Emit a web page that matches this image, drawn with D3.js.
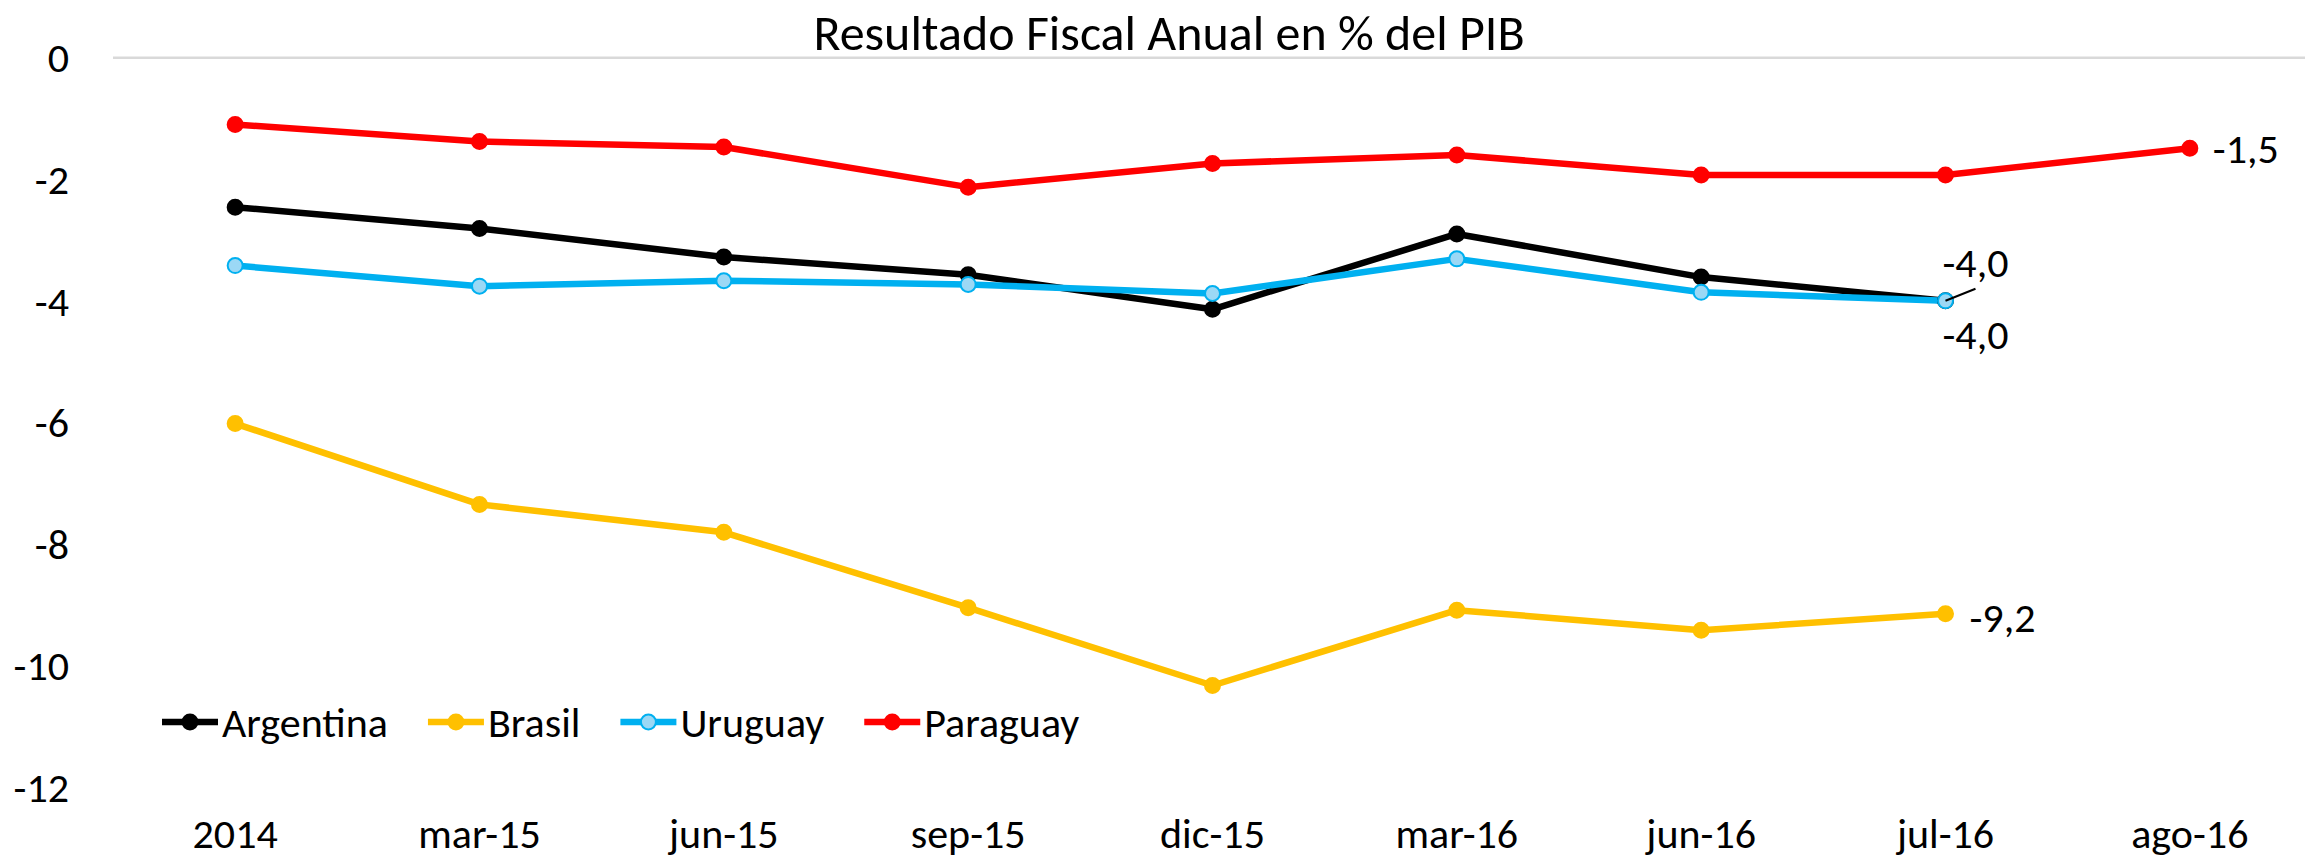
<!DOCTYPE html>
<html>
<head>
<meta charset="utf-8">
<script src="https://cdn.jsdelivr.net/npm/d3@7"></script>
<style>
  body { margin: 0; background: #fff; }
  svg text { font-family: Carlito, Calibri, "Liberation Sans Narrow", "Noto Sans", sans-serif; fill: #000; }
</style>
</head>
<body>
<figure id="chart" style="margin:0"></figure>
<script>
// data
const categories = ["2014", "mar-15", "jun-15", "sep-15", "dic-15", "mar-16", "jun-16", "jul-16", "ago-16"];
const argentina = [-2.46, -2.81, -3.28, -3.57, -4.14, -2.90, -3.61, -4.0];
const brasil = [-6.02, -7.35, -7.81, -9.05, -10.33, -9.09, -9.42, -9.15];
const uruguay = [-3.42, -3.76, -3.67, -3.73, -3.88, -3.31, -3.86, -4.0];
const paraguay = [-1.10, -1.38, -1.47, -2.13, -1.74, -1.60, -1.93, -1.93, -1.49];
const yTicks = [0, -2, -4, -6, -8, -10, -12];

const seriesNames = ["Argentina", "Brasil", "Uruguay", "Paraguay"];
const seriesValues = [argentina, brasil, uruguay, paraguay];
const lineColors = ["#000000", "#FFC000", "#00B0F0", "#FF0000"];
const markerFill = ["#000000", "#FFC000", "#9BD8F5", "#FF0000"];

const width = 2305, height = 859;

const svg = d3.select("figure#chart")
  .append("svg")
  .attr("width", width)
  .attr("height", height);

const x = d3.scaleBand().domain(categories).range([113, 2312]);
const xc = c => x(c) + x.bandwidth() / 2;
const y = d3.scaleLinear().domain([-12, 0]).range([787, 57.7]);

const locale = d3.formatLocale({ decimal: ",", thousands: ".", grouping: [3], currency: ["", ""], minus: "-" });
const fmt1 = locale.format(".1f");
const fmt0 = locale.format("d");

// title
svg.append("text")
  .attr("x", 1169)
  .attr("y", 32)
  .attr("dy", "0.35em")
  .style("text-anchor", "middle")
  .style("font-size", "50px")
  .text("Resultado Fiscal Anual en % del PIB");

// horizontal axis line at 0
svg.append("line")
  .attr("x1", 113).attr("x2", width)
  .attr("y1", y(0)).attr("y2", y(0))
  .style("stroke", "#D9D9D9")
  .style("stroke-width", 2.5);

// y labels
svg.selectAll(".ytick")
  .data(yTicks)
  .enter()
  .append("text")
  .attr("class", "ytick")
  .attr("x", 69)
  .attr("y", d => y(d))
  .attr("dy", "0.35em")
  .style("text-anchor", "end")
  .style("font-size", "42px")
  .text(d => fmt0(d));

// x labels (low position)
svg.selectAll(".xtick")
  .data(categories)
  .enter()
  .append("text")
  .attr("class", "xtick")
  .attr("x", d => xc(d))
  .attr("y", 833)
  .attr("dy", "0.35em")
  .style("text-anchor", "middle")
  .style("font-size", "42px")
  .text(d => d);

const line = d3.line()
  .x((d, i) => xc(categories[i]))
  .y(d => y(d));

seriesValues.forEach((vals, s) => {
  svg.append("path")
    .datum(vals)
    .attr("d", line)
    .style("fill", "none")
    .style("stroke", lineColors[s])
    .style("stroke-width", 6.5)
    .style("stroke-linejoin", "round");
});

seriesValues.forEach((vals, s) => {
  svg.selectAll(".pt" + s)
    .data(vals)
    .enter()
    .append("circle")
    .attr("cx", (d, i) => xc(categories[i]))
    .attr("cy", d => y(d))
    .attr("r", 7.5)
    .style("fill", markerFill[s])
    .style("stroke", lineColors[s])
    .style("stroke-width", 2);
});

// end labels
const lastIdx = arr => arr.length - 1;
const endLabel = (vals, dx, dy, anchor) => {
  const i = lastIdx(vals);
  return svg.append("text")
    .attr("x", xc(categories[i]) + dx)
    .attr("y", y(vals[i]) + dy)
    .attr("dy", "0.35em")
    .style("text-anchor", anchor)
    .style("font-size", "42px")
    .text(fmt1(vals[i]));
};
endLabel(paraguay, 23, 0, "start");
endLabel(brasil, 24, 4, "start");
endLabel(uruguay, -3, 33, "start");
endLabel(argentina, -3, -39, "start");

// leader line for the argentina label
const ai = lastIdx(argentina);
svg.append("line")
  .attr("x1", xc(categories[ai]))
  .attr("y1", y(argentina[ai]))
  .attr("x2", xc(categories[ai]) + 30)
  .attr("y2", y(argentina[ai]) - 12)
  .style("stroke", "#000")
  .style("stroke-width", 2);

// legend
let lx = 162;
const ly = 722;
seriesNames.forEach((name, s) => {
  const g = svg.append("g");
  g.append("line")
    .attr("x1", lx).attr("x2", lx + 56)
    .attr("y1", ly).attr("y2", ly)
    .style("stroke", lineColors[s])
    .style("stroke-width", 6.5);
  g.append("circle")
    .attr("cx", lx + 28).attr("cy", ly).attr("r", 7.5)
    .style("fill", markerFill[s])
    .style("stroke", lineColors[s])
    .style("stroke-width", 2);
  const t = g.append("text")
    .attr("x", lx + 60)
    .attr("y", ly)
    .attr("dy", "0.35em")
    .style("font-size", "42px")
    .text(name);
  lx += 60 + t.node().getComputedTextLength() + 40;
});
</script>
</body>
</html>
